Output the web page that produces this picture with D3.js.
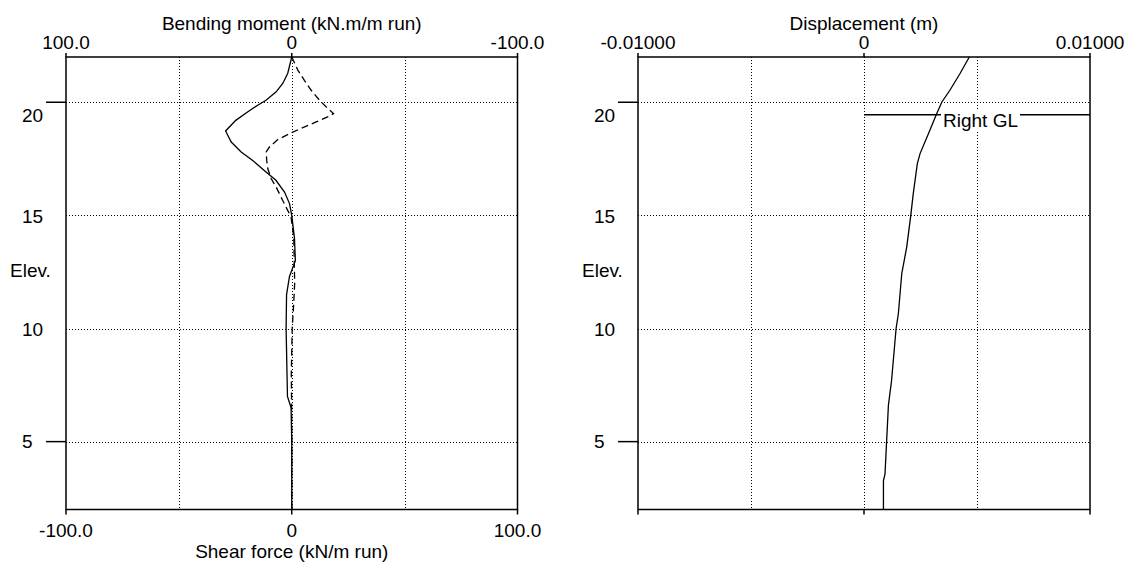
<!DOCTYPE html>
<html>
<head>
<meta charset="utf-8">
<script src="https://cdn.jsdelivr.net/npm/d3@7"></script>
<style>
  body { margin: 0; background: #fff; }
  svg text { font-family: "Liberation Sans", Arial, sans-serif; font-size: 19px; fill: #000; }
</style>
</head>
<body>
<div id="chart"></div>
<script>
// elevation ticks on the vertical axis
const elevTicks = [20, 15, 10, 5];

// tick labels of the horizontal axes
const bmTickValues = [100, 0, -100];
const bmTickLabels = ["100.0", "0", "-100.0"];
const sfTickValues = [-100, 0, 100];
const sfTickLabels = ["-100.0", "0", "100.0"];
const dispTickValues = [-0.01, 0, 0.01];
const dispTickLabels = ["-0.01000", "0", "0.01000"];

// bending moment (solid line)
const bmElev = [22, 21.27, 20.83, 20.46, 20.09, 19.87, 19.57, 19.2, 18.73, 18.24, 17.8, 17.43, 16.92, 16.55, 16.03, 15.52, 15, 14, 13, 12.3, 11.5, 10, 9, 7, 6.5, 5, 4.4, 2];
const bmValue = [0, 1.8, 4.0, 6.9, 11.4, 15.1, 19.6, 24.8, 29.3, 26.8, 22.4, 17.3, 11.4, 7.0, 3.2, 1.0, 0, -1.2, -1.6, 1.0, 2.3, 2.5, 2.3, 1.9, 0.3, 0, 0, 0];

// shear force (dashed line)
const sfElev = [22, 21.42, 20.97, 20.53, 20.09, 19.8, 19.5, 19.35, 19.13, 18.88, 18.61, 18.35, 18.02, 17.8, 17.43, 17.06, 16.62, 16.25, 15.66, 15.22, 14.93, 14, 12, 11, 10, 8, 6, 4.4, 2];
const sfValue = [0, 2.7, 5.6, 8.6, 12.3, 15.2, 18.5, 15.9, 10.8, 4.9, -1.0, -6.2, -9.9, -11.3, -11.1, -10.6, -9.1, -6.9, -4.0, -1.8, -0.3, 0.9, 1.3, 0.8, 0.2, -0.2, 0, 0, 0];

// displacement
const dispElev = [22, 21.27, 20.53, 20, 19.5, 18.61, 17.73, 17.29, 15.96, 15, 13.6, 12.42, 10.65, 10, 7.7, 6.6, 5, 3.57, 3.27, 2];
const dispValue = [0.00466, 0.00425, 0.0038, 0.00344, 0.00322, 0.00285, 0.00248, 0.00236, 0.00218, 0.00207, 0.00189, 0.00167, 0.00152, 0.00142, 0.00122, 0.00108, 0.001, 0.00093, 0.00086, 0.00086];

// ground level marker
const rightGLElev = 19.45;
const rightGLLabel = "Right GL";

const W = 1136, H = 567;
const plotTop = 57, plotBottom = 509.5;

const svg = d3.select("#chart").append("svg")
    .attr("width", W)
    .attr("height", H);

const y = d3.scaleLinear().domain([2, 22]).range([plotBottom, plotTop]);

function drawPanel(left, right, xTop, topValues, topLabels, title, xBottom, bottomLabels, bottomTitle) {
    const g = svg.append("g");
    const midX = (left + right) / 2;

    // grid lines (dotted)
    const gridX = [0.25, 0.5, 0.75].map(f => left + f * (right - left));
    g.selectAll(".gx").data(gridX).join("line")
        .attr("x1", d => Math.round(d) + 0.5).attr("x2", d => Math.round(d) + 0.5)
        .attr("y1", plotTop).attr("y2", plotBottom)
        .attr("stroke", "#000").attr("stroke-width", 1)
        .attr("stroke-dasharray", "1,2");
    g.selectAll(".gy").data(elevTicks).join("line")
        .attr("x1", left).attr("x2", right)
        .attr("y1", d => Math.round(y(d)) + 0.5).attr("y2", d => Math.round(y(d)) + 0.5)
        .attr("stroke", "#000").attr("stroke-width", 1)
        .attr("stroke-dasharray", "1,2");

    // box
    g.append("rect")
        .attr("x", left).attr("y", plotTop)
        .attr("width", right - left).attr("height", plotBottom - plotTop)
        .attr("fill", "none").attr("stroke", "#000").attr("stroke-width", 1.5);

    // left ticks at 20 and 5
    g.selectAll(".ty").data([20, 5]).join("line")
        .attr("x1", left - 20).attr("x2", left)
        .attr("y1", d => y(d)).attr("y2", d => y(d))
        .attr("stroke", "#000").attr("stroke-width", 1.5);

    // elevation labels
    const labelDy = { 20: 20, 15: 8, 10: 7, 5: 6 };
    g.selectAll(".ly").data(elevTicks).join("text")
        .attr("x", left - 44)
        .attr("y", d => y(d) + labelDy[d])
        .text(d => d);
    g.append("text")
        .attr("x", left - 56)
        .attr("y", 277)
        .text("Elev.");

    // top axis
    g.selectAll(".tt").data(topValues).join("line")
        .attr("x1", d => xTop(d)).attr("x2", d => xTop(d))
        .attr("y1", plotTop - 4).attr("y2", plotTop)
        .attr("stroke", "#000").attr("stroke-width", 1.5);
    g.selectAll(".lt").data(topValues).join("text")
        .attr("x", d => xTop(d))
        .attr("y", plotTop - 8)
        .attr("text-anchor", "middle")
        .text((d, i) => topLabels[i]);
    g.append("text")
        .attr("x", midX).attr("y", 30)
        .attr("text-anchor", "middle")
        .text(title);

    // bottom ticks
    g.selectAll(".tb").data([left, midX, right]).join("line")
        .attr("x1", d => d).attr("x2", d => d)
        .attr("y1", plotBottom).attr("y2", plotBottom + 5)
        .attr("stroke", "#000").attr("stroke-width", 1.5);

    if (xBottom) {
        g.selectAll(".lb").data(sfTickValues).join("text")
            .attr("x", d => xBottom(d))
            .attr("y", plotBottom + 27)
            .attr("text-anchor", "middle")
            .text((d, i) => bottomLabels[i]);
        g.append("text")
            .attr("x", midX).attr("y", plotBottom + 48)
            .attr("text-anchor", "middle")
            .text(bottomTitle);
    }
    return g;
}

// left panel: bending moment / shear force
const xBM = d3.scaleLinear().domain([100, -100]).range([66, 517.5]);
const xSF = d3.scaleLinear().domain([-100, 100]).range([66, 517.5]);
const gl = drawPanel(66, 517.5, xBM, bmTickValues, bmTickLabels, "Bending moment (kN.m/m run)",
    xSF, sfTickLabels, "Shear force (kN/m run)");

gl.append("path")
    .datum(d3.zip(bmValue, bmElev))
    .attr("fill", "none")
    .attr("stroke", "#000")
    .attr("stroke-width", 1.3)
    .attr("d", d3.line().x(d => xBM(d[0])).y(d => y(d[1])));

gl.append("path")
    .datum(d3.zip(sfValue, sfElev))
    .attr("fill", "none")
    .attr("stroke", "#000")
    .attr("stroke-width", 1.3)
    .attr("stroke-dasharray", "7,4")
    .attr("d", d3.line().x(d => xSF(d[0])).y(d => y(d[1])));

// right panel: displacement
const xD = d3.scaleLinear().domain([-0.01, 0.01]).range([638, 1090]);
const gr = drawPanel(638, 1090, xD, dispTickValues, dispTickLabels, "Displacement (m)", null);

// right ground level line with label
gr.append("line")
    .attr("x1", xD(0)).attr("x2", xD(0.01))
    .attr("y1", y(rightGLElev)).attr("y2", y(rightGLElev))
    .attr("stroke", "#000").attr("stroke-width", 1.5);
const glText = gr.append("text")
    .attr("x", 943)
    .attr("y", y(rightGLElev) + 12)
    .text(rightGLLabel);
const bb = glText.node().getBBox();
gr.append("rect")
    .attr("x", bb.x - 2).attr("y", bb.y)
    .attr("width", bb.width + 4).attr("height", bb.height)
    .attr("fill", "#fff");
glText.raise();

gr.append("path")
    .datum(d3.zip(dispValue, dispElev))
    .attr("fill", "none")
    .attr("stroke", "#000")
    .attr("stroke-width", 1.3)
    .attr("d", d3.line().x(d => xD(d[0])).y(d => y(d[1])));
</script>
</body>
</html>
